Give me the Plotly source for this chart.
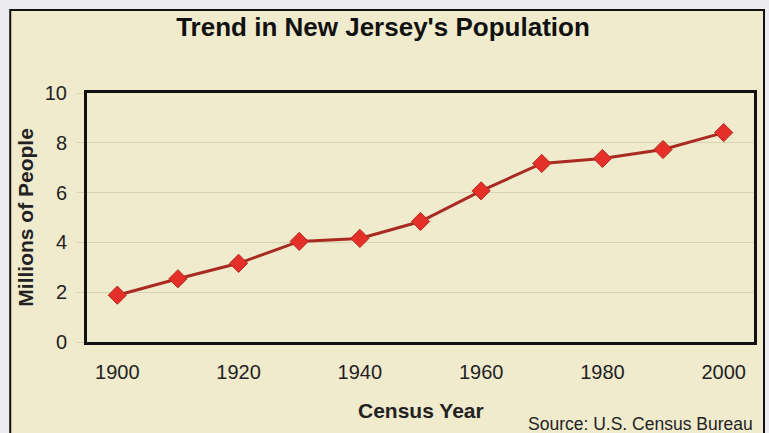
import plotly.graph_objects as go

years = [1900, 1910, 1920, 1930, 1940, 1950, 1960, 1970, 1980, 1990, 2000]
population = [1.88, 2.54, 3.16, 4.04, 4.16, 4.84, 6.07, 7.17, 7.37, 7.73, 8.41]

year_ticks = [1900, 1920, 1940, 1960, 1980, 2000]
pop_ticks = [0, 2, 4, 6, 8, 10]

BEIGE = "#F0EBCD"
GRID = "#D9D3B6"
FONT = "Liberation Sans, Arial, sans-serif"

fig = go.Figure()
fig.add_trace(go.Scatter(
    x=years,
    y=population,
    mode="lines+markers",
    line=dict(color="#A92A20", width=3),
    marker=dict(symbol="diamond", size=14, color="#E5302A",
                line=dict(color="#B52A22", width=1)),
    hoverinfo="x+y",
    showlegend=False,
))

fig.update_layout(
    width=769,
    height=433,
    margin=dict(l=87, r=13, t=93, b=91),
    paper_bgcolor="#ECECEE",
    plot_bgcolor=BEIGE,
    font=dict(family=FONT, color="#222222", size=20),
    title=dict(
        text="<b>Trend in New Jersey's Population</b>",
        x=383 / 769, xref="container", xanchor="center",
        y=0.938, yanchor="middle",
        font=dict(size=26, color="#111111"),
    ),
    xaxis=dict(
        range=[1895, 2005],
        tickvals=year_ticks,
        showgrid=False,
        zeroline=False,
        showline=True, mirror=True, linecolor="#111111", linewidth=3,
        ticks="",
        ticklabelstandoff=10,
        tickfont=dict(size=20),
    ),
    yaxis=dict(
        range=[0, 10],
        tickvals=pop_ticks,
        showgrid=True, gridcolor=GRID, gridwidth=1,
        zeroline=False,
        showline=True, mirror=True, linecolor="#111111", linewidth=3,
        ticks="outside", ticklen=7, tickcolor=GRID,
        ticklabelstandoff=6,
        tickfont=dict(size=20),
    ),
    shapes=[dict(
        type="rect", xref="paper", yref="paper",
        x0=-0.1151, x1=1.0150, y0=-0.40, y1=1.333,
        fillcolor=BEIGE, line=dict(color="#111111", width=2),
        layer="below",
    )],
    annotations=[
        dict(text="<b>Millions of People</b>", xref="paper", yref="paper",
             x=(25 - 87) / 669, y=0.5, xanchor="center", yanchor="middle",
             textangle=-90, showarrow=False, font=dict(size=21)),
        dict(text="<b>Census Year</b>", xref="paper", yref="paper",
             x=(422 - 87) / 669, y=(342 - 410) / 249, xanchor="center", yanchor="middle",
             showarrow=False, font=dict(size=21)),
        dict(text="Source: U.S. Census Bureau", xref="paper", yref="paper",
             x=(757 - 87) / 669, y=(342 - 424) / 249, xanchor="right", yanchor="middle",
             showarrow=False, font=dict(size=17.5)),
    ],
)

fig.write_html("out.html", config={"displayModeBar": False},
               post_script="document.body.style.margin='0';")
